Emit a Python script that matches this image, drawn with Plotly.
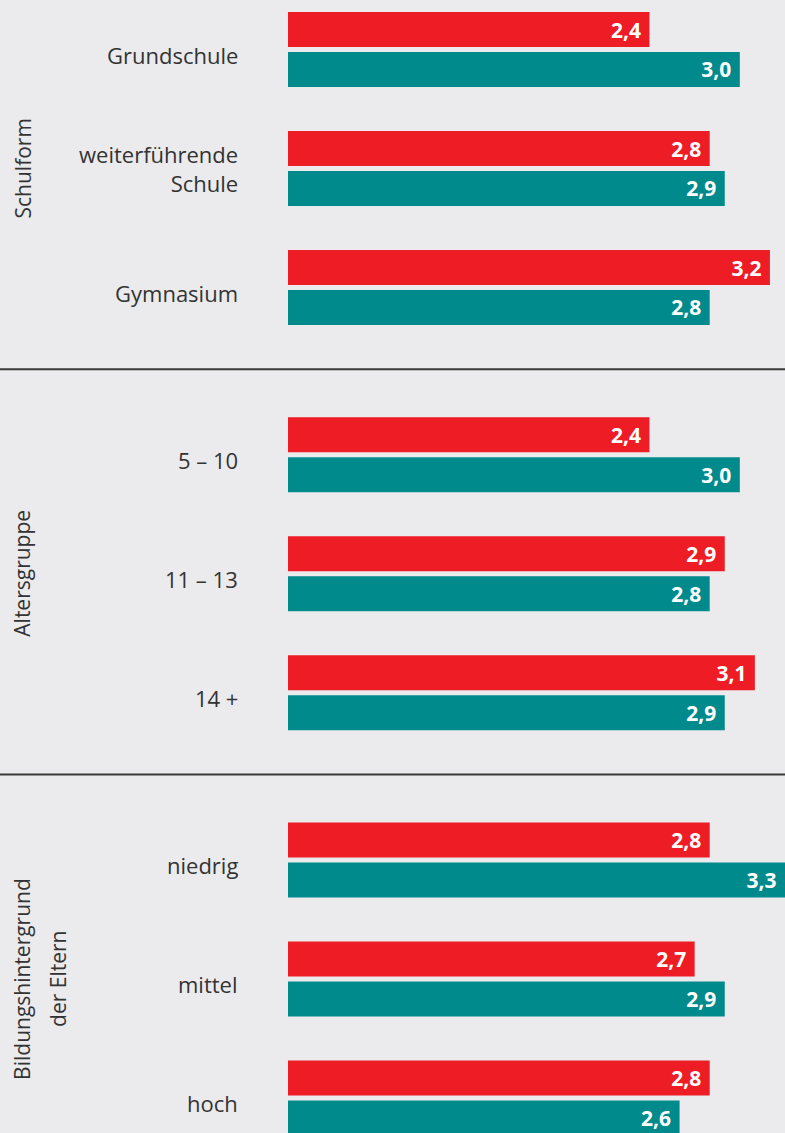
import plotly.graph_objects as go

groups = ["Schulform", "Altersgruppe", "Bildungshintergrund<br>der Eltern"]
categories = [
    ["Grundschule", "weiterführende<br>Schule", "Gymnasium"],
    ["5 – 10", "11 – 13", "14 +"],
    ["niedrig", "mittel", "hoch"],
]
red_values = [[2.4, 2.8, 3.2], [2.4, 2.9, 3.1], [2.8, 2.7, 2.8]]
teal_values = [[3.0, 2.9, 2.8], [3.0, 2.8, 2.9], [3.3, 2.9, 2.6]]

RED = "#EE1D25"
TEAL = "#008A8C"
BG = "#EBEBED"
TXT = "#333333"
FONT = "Open Sans"
GAP = 0.405
W, H = 785, 1133

ys, labels, reds, teals = [], [], [], []
for g, cats in enumerate(categories):
    for i, c in enumerate(cats):
        ys.append(g * 3 + i + g * GAP)
        labels.append(c)
        reds.append(red_values[g][i])
        teals.append(teal_values[g][i])

fig = go.Figure()
for vals, col in [(reds, RED), (teals, TEAL)]:
    fig.add_trace(go.Bar(
        x=vals, y=ys, orientation="h", marker=dict(color=col, line=dict(width=0)),
        text=[f"{v:.1f}".replace(".", ",") + "\u00a0" for v in vals],
        textposition="inside", insidetextanchor="end",
        textfont=dict(color="white", size=21, family=FONT, weight="bold"),
        hoverinfo="skip", cliponaxis=False,
    ))

shapes = []
for g in range(1, 3):
    ymid = (ys[g * 3 - 1] + ys[g * 3]) / 2 - 0.015
    shapes.append(dict(type="line", xref="paper", x0=-1, x1=1, yref="y", y0=ymid, y1=ymid,
                       line=dict(color="#3a3a3a", width=2)))

annotations = []
for g, name in enumerate(groups):
    ymid = ys[g * 3 + 1]
    for k, line in enumerate(name.split("<br>")):
        annotations.append(dict(
            text=line, x=(22 + 36 * k) / W, xref="paper", xanchor="center",
            y=ymid, yref="y", yanchor="middle", textangle=-90, showarrow=False,
            font=dict(size=21, color=TXT, family=FONT),
        ))

# category labels (right-aligned next to the bars)
for yv, lab in zip(ys, labels):
    annotations.append(dict(
        text=lab, x=240 / W, xref="paper", xanchor="right", align="right",
        y=yv, yref="y", yanchor="middle", showarrow=False,
        yshift=0 if "<br>" in lab else -5,
        font=dict(size=22, color=TXT, family=FONT),
    ))

fig.update_layout(
    width=W, height=H, paper_bgcolor=BG, plot_bgcolor=BG,
    margin=dict(l=0, r=0, t=0, b=0), showlegend=False,
    barmode="group", bargap=0.328, bargroupgap=0.125,
    shapes=shapes, annotations=annotations,
    font=dict(family=FONT, color=TXT),
)
fig.update_xaxes(domain=[288 / W, 1], range=[0, 3.3], visible=False, fixedrange=True)
fig.update_yaxes(range=[9.105, -0.416], tickvals=ys, showticklabels=False, showgrid=False,
                 zeroline=False, showline=False, ticks="", fixedrange=True)
fig.write_html("out.html", config={"displayModeBar": False},
               post_script="document.body.style.margin='0';document.body.style.overflow='hidden';")
